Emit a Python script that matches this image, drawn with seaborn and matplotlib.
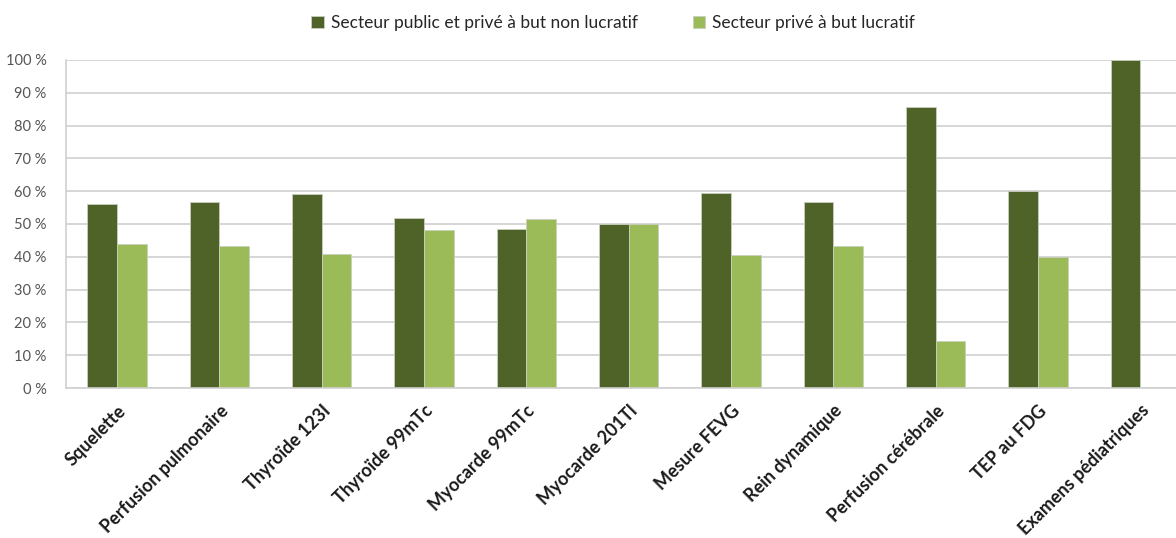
import matplotlib
matplotlib.use("Agg")
import matplotlib.pyplot as plt
import seaborn as sns
import pandas as pd
from matplotlib.ticker import FuncFormatter

categories = [
    "Squelette", "Perfusion pulmonaire", "Thyroïde 123I", "Thyroïde 99mTc",
    "Myocarde 99mTc", "Myocarde 201Tl", "Mesure FEVG", "Rein dynamique",
    "Perfusion cérébrale", "TEP au FDG", "Examens pédiatriques",
]
public_nonprofit = [56.1, 56.7, 59.0, 51.8, 48.5, 50.0, 59.6, 56.8, 85.7, 60.0, 100.0]
private_forprofit = [43.9, 43.3, 41.0, 48.2, 51.5, 50.0, 40.4, 43.2, 14.3, 40.0, 0.0]
series_names = ["Secteur public et privé à but non lucratif", "Secteur privé à but lucratif"]
y_ticks = [0, 10, 20, 30, 40, 50, 60, 70, 80, 90, 100]

df = pd.DataFrame({
    "categorie": categories * 2,
    "secteur": [series_names[0]] * len(categories) + [series_names[1]] * len(categories),
    "part": public_nonprofit + private_forprofit,
})

sns.set_theme(style="white")
plt.rcParams["font.family"] = ["Lato", "DejaVu Sans"]

fig = plt.figure(figsize=(11.76, 5.38), dpi=100)
ax = fig.add_axes([0.0561, 0.2788, 0.9439, 0.6097])

palette = {series_names[0]: "#4F6228", series_names[1]: "#9BBB59"}
sns.barplot(data=df, x="categorie", y="part", hue="secteur", palette=palette,
            width=0.58, gap=0, saturation=1, edgecolor="#c8cfbe", linewidth=0.6,
            ax=ax, legend=True)

ax.set_ylim(0, 100)
ax.set_xlim(-0.5, 10.35)
ax.set_yticks(y_ticks)
ax.yaxis.set_major_formatter(FuncFormatter(lambda v, _: f"{int(v)} %"))
ax.grid(axis="y", color="#d0d0d0", linewidth=1.2)
ax.set_axisbelow(True)
ax.set_xlabel("")
ax.set_ylabel("")

for side in ["top", "right"]:
    ax.spines[side].set_visible(False)
for side in ["left", "bottom"]:
    ax.spines[side].set_color("#d0d0d0")
    ax.spines[side].set_linewidth(1.2)

ax.tick_params(axis="y", length=0, pad=14, labelsize=10.5, labelcolor="#555555")
ax.tick_params(axis="x", length=0, pad=10)
ax.set_xticks(range(len(categories)))
ax.set_xticklabels(categories, rotation=45, ha="right", rotation_mode="anchor",
                   fontsize=13, fontweight="bold", color="#1a1a1a")
for lbl in ax.get_xticklabels():
    lbl.set_x(lbl.get_position()[0])

handles, labels = ax.get_legend_handles_labels()
ax.legend(handles, labels, loc="upper center", bbox_to_anchor=(0.493, 1.185), ncol=2,
          frameon=False, fontsize=12.5, handlelength=0.7, handleheight=0.7,
          handletextpad=0.4, columnspacing=3.2, labelcolor="#262626")

fig.savefig("out.png", dpi=100)
